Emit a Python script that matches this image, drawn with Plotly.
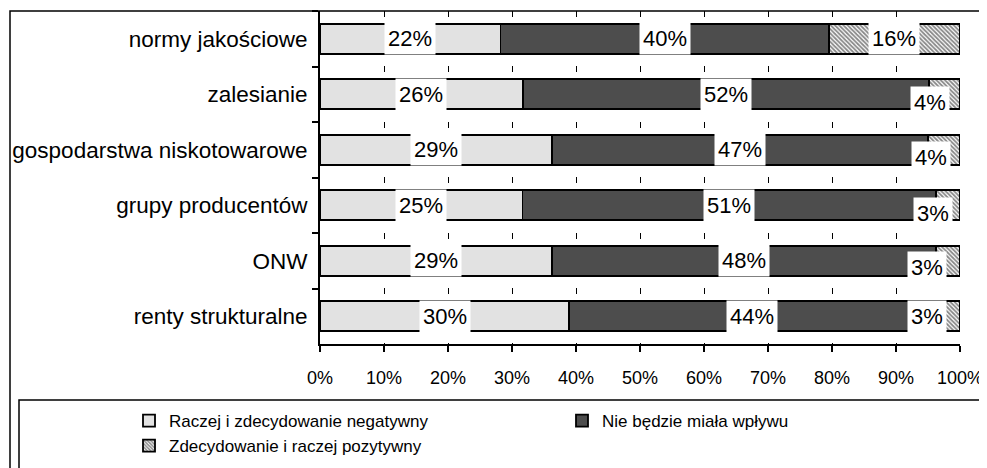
import plotly.graph_objects as go

categories = ['normy jakościowe', 'zalesianie', 'gospodarstwa niskotowarowe',
              'grupy producentów', 'ONW', 'renty strukturalne']
negatywny = [22, 26, 29, 25, 29, 30]
bez_wplywu = [40, 52, 47, 51, 48, 44]
pozytywny = [16, 4, 4, 3, 3, 3]
series_names = ['Raczej i zdecydowanie negatywny', 'Nie będzie miała wpływu',
                'Zdecydowanie i raczej pozytywny']
x_ticks = [0, 10, 20, 30, 40, 50, 60, 70, 80, 90, 100]
x_tick_labels = ['0%', '10%', '20%', '30%', '40%', '50%', '60%', '70%', '80%', '90%', '100%']

W, H = 987, 468
ML, MR, MT, MB = 312, 35, 3, 132
PW, PH = W - ML - MR, H - MT - MB
FONT = 'Liberation Sans, Arial, sans-serif'

# offsets of the small labels of the last series (pushed aside like in Excel)
small_shift = [(0, 0), (-14, -8), (-13, -8), (-15, -8), (-21, -7), (-21, 0)]


def px_x(p):
    return (p - ML) / PW


def px_y(p):
    return 1 - (p - MT) / PH


fills = ['#e2e2e2', '#4d4d4d', 'white']
series = [negatywny, bez_wplywu, pozytywny]

data = []
for name, vals, col in zip(series_names, series, fills):
    marker = dict(color=col, line=dict(color='black', width=1.8))
    if col == 'white':
        marker['pattern'] = dict(shape='\\', size=3, solidity=0.6,
                                 fgcolor='#111111', bgcolor='white')
    data.append(go.Bar(y=categories, x=vals, name=name, orientation='h',
                       marker=marker, hoverinfo='skip'))

# labels in the middle of each segment, in white boxes
annotations = []
for i, cat in enumerate(categories):
    total = negatywny[i] + bez_wplywu[i] + pozytywny[i]
    start = 0
    for k, vals in enumerate(series):
        share = vals[i] / total * 100
        mid = start + share / 2
        start += share
        xs, ys = small_shift[i] if k == 2 else (0, 0)
        annotations.append(dict(x=mid, y=cat, text=f'{vals[i]}%', showarrow=False,
                                bgcolor='white', borderpad=3, xshift=xs, yshift=ys,
                                font=dict(family=FONT, size=22, color='black')))

shapes = [
    dict(type='rect', xref='paper', yref='paper', x0=px_x(2), x1=px_x(W + 20),
         y0=px_y(H + 20), y1=px_y(MT), line=dict(color='black', width=1.5),
         layer='below'),
    dict(type='rect', xref='paper', yref='paper', x0=px_x(11), x1=px_x(W + 20),
         y0=px_y(H + 20), y1=px_y(392), line=dict(color='black', width=1.5)),
]

layout = go.Layout(
    width=W, height=H,
    margin=dict(l=ML, r=MR, t=MT, b=MB),
    barmode='stack', barnorm='percent', bargap=0.46,
    plot_bgcolor='white', paper_bgcolor='white',
    font=dict(family=FONT, size=20, color='black'),
    xaxis=dict(range=[0, 100], tickvals=x_ticks, ticktext=x_tick_labels,
               showgrid=True, gridcolor='black', gridwidth=1, griddash='6px,21.7px',
               showline=True, linecolor='black', linewidth=2,
               ticks='outside', ticklen=6, tickcolor='black', tickwidth=1.5,
               zeroline=False, automargin=False, ticklabelstandoff=10,
               tickfont=dict(size=18)),
    yaxis=dict(autorange='reversed', showline=True, linecolor='black', linewidth=2,
               ticks='outside', ticklen=6, tickcolor='black', tickwidth=1.5,
               tickson='boundaries', showgrid=False, automargin=False,
               tickfont=dict(size=22.5), ticklabelstandoff=6),
    legend=dict(orientation='h', x=px_x(130), y=px_y(395), xanchor='left', yanchor='top',
                entrywidth=388, entrywidthmode='pixels', font=dict(size=17),
                itemclick=False, traceorder='normal', bgcolor='rgba(0,0,0,0)'),
    annotations=annotations,
    shapes=shapes,
)

fig = go.Figure(data=data, layout=layout)
fig.write_html('out.html')
